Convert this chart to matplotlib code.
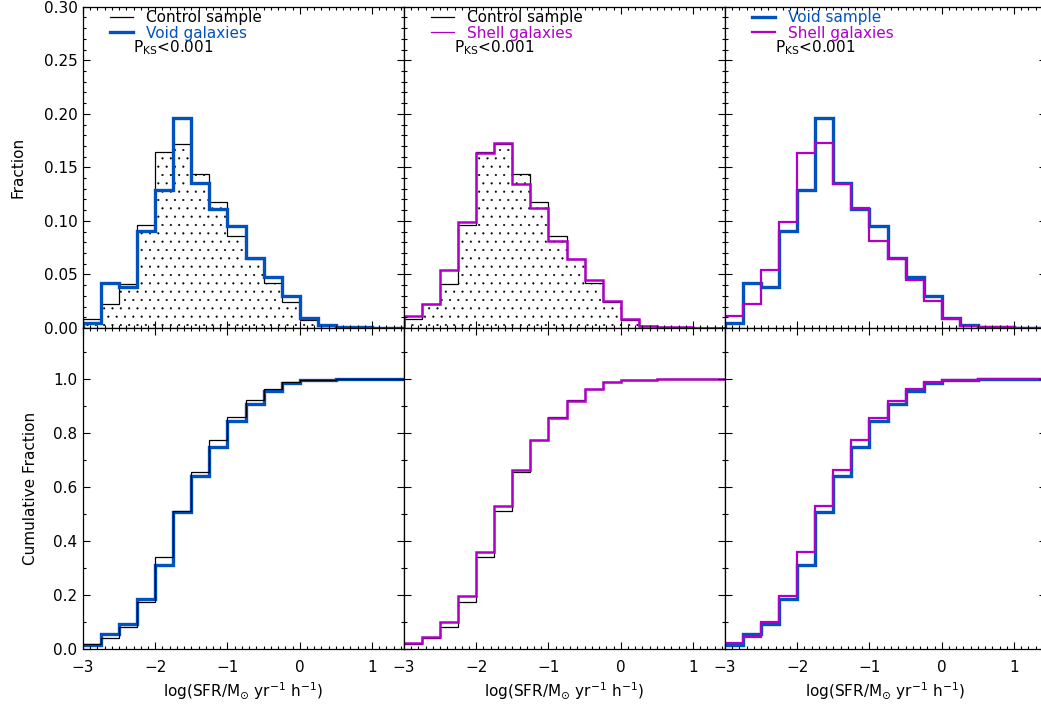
import numpy as np
import matplotlib.pyplot as plt
from matplotlib.lines import Line2D
from matplotlib.ticker import MultipleLocator

# bins in log(SFR), 0.25 dex wide
edges = np.arange(-3.0, 1.51, 0.25)

# fraction per bin
control = np.array([0.008, 0.022, 0.041, 0.096, 0.164, 0.172, 0.144, 0.118, 0.086,
                    0.064, 0.042, 0.024, 0.0075, 0.002, 0.001, 0.0005, 0.0, 0.0])
void = np.array([0.005, 0.042, 0.038, 0.091, 0.129, 0.196, 0.135, 0.111, 0.095,
                 0.065, 0.048, 0.030, 0.009, 0.003, 0.001, 0.0005, 0.0, 0.0])
shell = np.array([0.011, 0.022, 0.054, 0.099, 0.163, 0.173, 0.134, 0.112, 0.081,
                  0.064, 0.045, 0.025, 0.008, 0.002, 0.001, 0.0005, 0.0, 0.0])

# fraction of each sample lying below -3 (offset of the cumulative curves)
below_control = 0.009
below_void = 0.010
below_shell = 0.012

pks_text = r'P$_{\mathrm{KS}}$<0.001'
xlabel = r'log(SFR/M$_{\odot}$ yr$^{-1}$ h$^{-1}$)'

blue = '#0052BE'
magenta = '#B000C8'
lw_thin, lw_blue, lw_mag = 0.9, 2.4, 1.8


def cumulative(h, below):
    c = np.cumsum(h)
    return below + (1 - below) * c / c[-1]


plt.rcParams['font.family'] = ['DejaVu Sans']
plt.rcParams['font.size'] = 11
plt.rcParams['hatch.linewidth'] = 0.3

fig = plt.figure(figsize=(10.41, 7.11), dpi=100)
W, H = 1041.0, 711.0
lefts = [83, 404, 725]
pw = 321
tops, bots = [], []
for l in lefts:
    tops.append(fig.add_axes([l / W, 1 - 328 / H, pw / W, (328 - 6.7) / H]))
    bots.append(fig.add_axes([l / W, 1 - 649 / H, pw / W, (649 - 328) / H]))

cc, cv, cs = (cumulative(control, below_control), cumulative(void, below_void),
              cumulative(shell, below_shell))

# top row: differential
a = tops[0]
a.stairs(control, edges, fill=True, facecolor='white', edgecolor='black', hatch='..', linewidth=0)
a.stairs(control, edges, color='black', lw=lw_thin)
a.stairs(void, edges, color=blue, lw=lw_blue)
a = tops[1]
a.stairs(control, edges, fill=True, facecolor='white', edgecolor='black', hatch='..', linewidth=0)
a.stairs(control, edges, color='black', lw=lw_thin)
a.stairs(shell, edges, color=magenta, lw=lw_mag)
a = tops[2]
a.stairs(void, edges, color=blue, lw=lw_blue)
a.stairs(shell, edges, color=magenta, lw=1.6)

# bottom row: cumulative
bots[0].stairs(cv, edges, color=blue, lw=lw_blue, baseline=None)
bots[0].stairs(cc, edges, color='black', lw=lw_thin, baseline=None)
bots[1].stairs(cc, edges, color='black', lw=lw_thin, baseline=None)
bots[1].stairs(cs, edges, color=magenta, lw=lw_mag, baseline=None)
bots[2].stairs(cv, edges, color=blue, lw=lw_blue, baseline=None)
bots[2].stairs(cs, edges, color=magenta, lw=1.6, baseline=None)

legends = [
    [('Control sample', 'black', lw_thin), ('Void galaxies', blue, lw_blue)],
    [('Control sample', 'black', lw_thin), ('Shell galaxies', magenta, lw_thin)],
    [('Void sample', blue, lw_blue), ('Shell galaxies', magenta, 1.6)],
]

for i, (t, b) in enumerate(zip(tops, bots)):
    for ax in (t, b):
        ax.set_xlim(-3, 1.443)
        ax.xaxis.set_major_locator(MultipleLocator(1))
        ax.xaxis.set_minor_locator(MultipleLocator(0.1))
        ax.tick_params(which='both', direction='in', top=True, right=True, width=0.8)
        ax.tick_params(which='major', length=5)
        ax.tick_params(which='minor', length=2.5)
        ax.tick_params(axis='x', pad=8)
        ax.tick_params(axis='y', pad=4)
        for s in ax.spines.values():
            s.set_linewidth(0.9)
    t.set_ylim(0, 0.30)
    t.yaxis.set_major_locator(MultipleLocator(0.05))
    t.yaxis.set_minor_locator(MultipleLocator(0.01))
    t.yaxis.set_major_formatter('{x:.2f}')
    b.set_ylim(0, 1.19)
    b.yaxis.set_major_locator(MultipleLocator(0.2))
    b.yaxis.set_minor_locator(MultipleLocator(0.1))
    b.yaxis.set_major_formatter('{x:.1f}')
    t.tick_params(labelbottom=False)
    b.set_xlabel(xlabel, labelpad=4)
    if i == 0:
        t.set_ylabel('Fraction', labelpad=13)
        b.set_ylabel('Cumulative Fraction', labelpad=11)
    else:
        t.tick_params(labelleft=False)
        b.tick_params(labelleft=False)

    handles = [Line2D([], [], color=c, lw=w) for _, c, w in legends[i]]
    labels = [n for n, _, _ in legends[i]]
    t.legend(handles, labels, loc='upper left', bbox_to_anchor=(0.084, 0.99),
             frameon=False, borderpad=0, borderaxespad=0, handlelength=1.5,
             handletextpad=0.85, labelspacing=0.05,
             labelcolor=[c for _, c, _ in legends[i]])
    t.text(0.155, 0.871, pks_text, transform=t.transAxes, va='center', ha='left')

fig.savefig('out.png', dpi=100)
